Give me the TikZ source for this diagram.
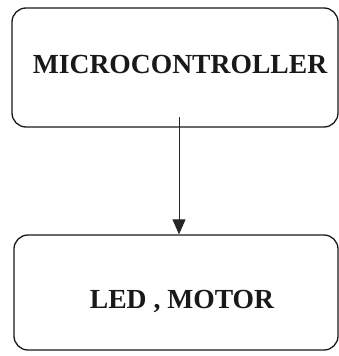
\documentclass[tikz,border=0pt]{standalone}
\usepackage{fontspec}
\setmainfont{Liberation Serif}
\usetikzlibrary{arrows.meta}
\begin{document}
\begin{tikzpicture}[x=1pt,y=-1pt,
  blockbox/.style={draw=black!90,line width=1.3pt,rounded corners=14pt,inner sep=0pt},
  blocktext/.style={font=\fontsize{27.6}{31}\selectfont\bfseries,text=black!90,inner sep=0pt},
  conn/.style={draw=black!85,line width=1pt,-{Triangle[length=15pt,width=13pt]}}]
\useasboundingbox (0,0) rectangle (339,356);
\node[blockbox,minimum width=326pt,minimum height=119pt] (mc) at (175,67.5) {};
\node[blocktext] (mct) at (180,64) {MICROCONTROLLER};
\node[blockbox,minimum width=324pt,minimum height=115pt] (lm) at (176,292.5) {};
\node[blocktext] (lmt) at (182,301.5) {LED , MOTOR};
\coordinate (src) at (179,117);
\draw[conn] (src) -- (src |- lm.north);
\end{tikzpicture}
\end{document}
